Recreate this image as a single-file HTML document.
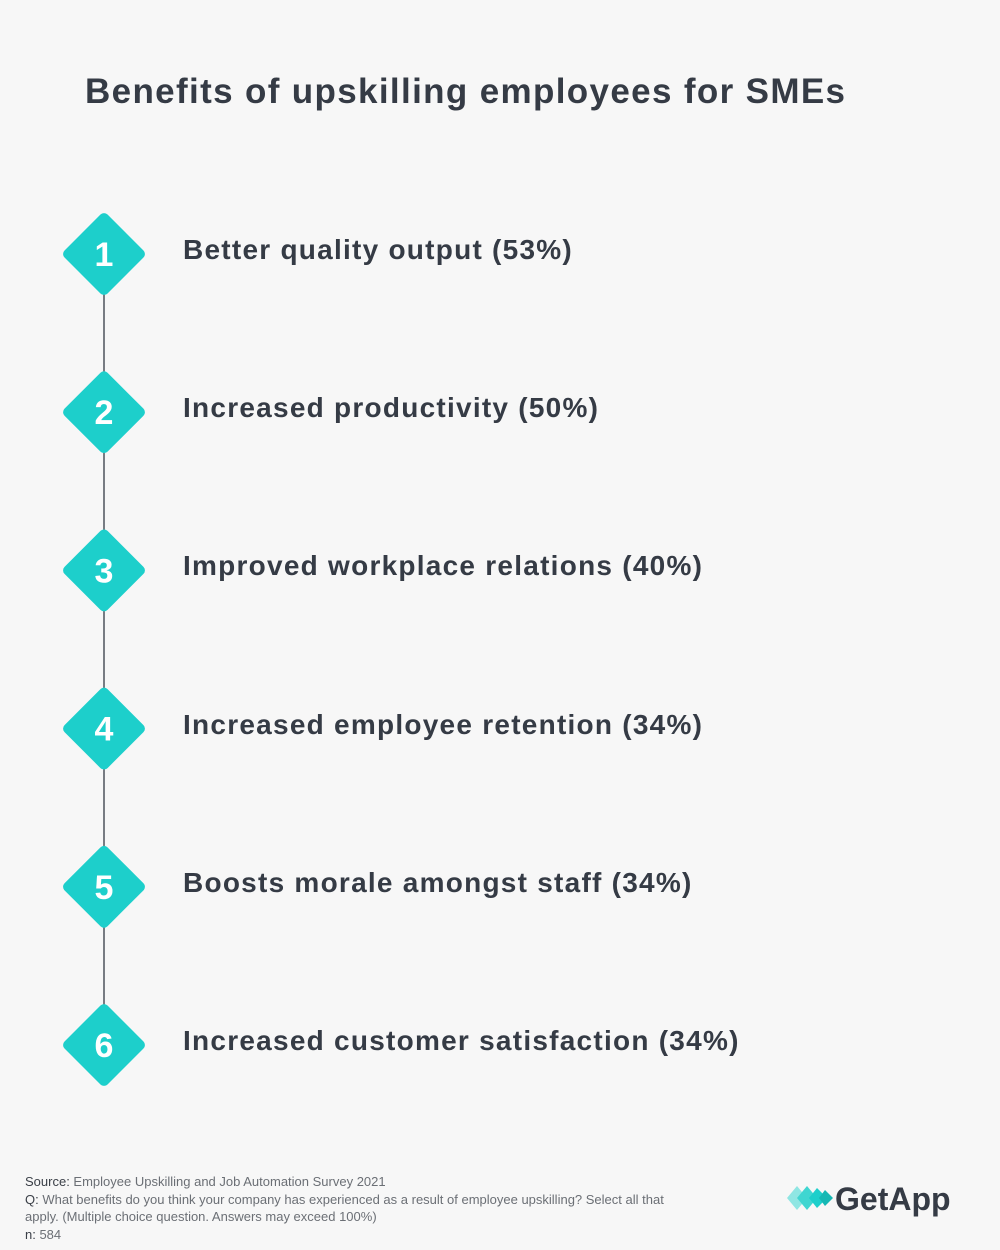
<!DOCTYPE html>
<html><head><meta charset="utf-8"><style>
body{margin:0;width:1000px;height:1250px;background:#f7f7f7;font-family:"Liberation Sans",sans-serif;position:relative;overflow:hidden}
#title{position:absolute;left:85px;top:72px;font-size:35px;font-weight:bold;color:#353b45;margin:0;letter-spacing:1.35px}
.lbl{position:absolute;font-size:28px;color:#353b45;font-weight:bold;letter-spacing:1.25px;white-space:nowrap}
#foot{position:absolute;left:25px;top:1173px;font-size:13px;line-height:17.5px;color:#6b6f75;width:670px}
#foot b{font-weight:normal;color:#3a3f47}
#logo{position:absolute;left:785px;top:1178px}
</style></head><body>
<h1 id="title">Benefits of upskilling employees for SMEs</h1>
<svg id="chart" width="1000" height="1250" style="position:absolute;left:0;top:0"></svg>
<div id="labels"></div>
<div id="foot"><b>Source:</b> Employee Upskilling and Job Automation Survey 2021<br><b>Q:</b> What benefits do you think your company has experienced as a result of employee upskilling? Select all that apply. (Multiple choice question. Answers may exceed 100%)<br><b>n:</b> 584</div>
<div id="logo">
<svg width="175" height="40"><polygon points="2,20 12,8 22,20 12,32" fill="#8fe6e3"/><polygon points="12,20 22,8 32,20 22,32" fill="#3fd6d1"/><polygon points="24,20 32,10 42,20 32,30" fill="#1dcfcb"/><polygon points="34,20 40,12 48,20 40,28" fill="#15b8b4"/>
<text x="50" y="32" font-family="Liberation Sans" font-weight="bold" font-size="32" fill="#353b45">GetApp</text></svg></div>
<script>
const ranks=[1,2,3,4,5,6];
const categories=["Better quality output","Increased productivity","Improved workplace relations","Increased employee retention","Boosts morale amongst staff","Increased customer satisfaction"];
const values=[53,50,40,34,34,34];
const svg=document.getElementById('chart'),NS="http://www.w3.org/2000/svg";
const y0=254,step=158.2,cx=104,r=43;
const yPos=i=>y0+i*step;
for(let i=0;i<ranks.length-1;i++){
 const l=document.createElementNS(NS,'line');
 
 
 l.setAttribute('x1',cx);l.setAttribute('x2',cx);l.setAttribute('y1',yPos(i));l.setAttribute('y2',yPos(i+1));
 l.setAttribute('stroke','#353b45');l.setAttribute('stroke-width','1.3');svg.appendChild(l);
}
ranks.forEach((rk,i)=>{
 const y=yPos(i);
 const g=document.createElementNS(NS,'g');
 
 
 const s=r*Math.SQRT1_2*2;
 const rc=document.createElementNS(NS,'rect');
 rc.setAttribute('x',cx-s/2);rc.setAttribute('y',y-s/2);rc.setAttribute('width',s);rc.setAttribute('height',s);rc.setAttribute('rx',5);
 rc.setAttribute('fill','#1dcfcb');rc.setAttribute('transform',`rotate(45 ${cx} ${y})`);g.appendChild(rc);
 const t=document.createElementNS(NS,'text');
 t.setAttribute('x',cx);t.setAttribute('y',y+12);t.setAttribute('text-anchor','middle');t.setAttribute('font-size','34');t.setAttribute('font-weight','bold');t.setAttribute('fill','#fff');t.setAttribute('font-family','Liberation Sans');t.textContent=rk;g.appendChild(t);
 svg.appendChild(g);
 const d=document.createElement('div');
 
 
 d.className='lbl';d.style.left='183px';d.style.top=(y-20)+'px';
 d.textContent=categories[i]+' ('+values[i]+'%)';
 document.getElementById('labels').appendChild(d);
});
</script>
</body></html>
